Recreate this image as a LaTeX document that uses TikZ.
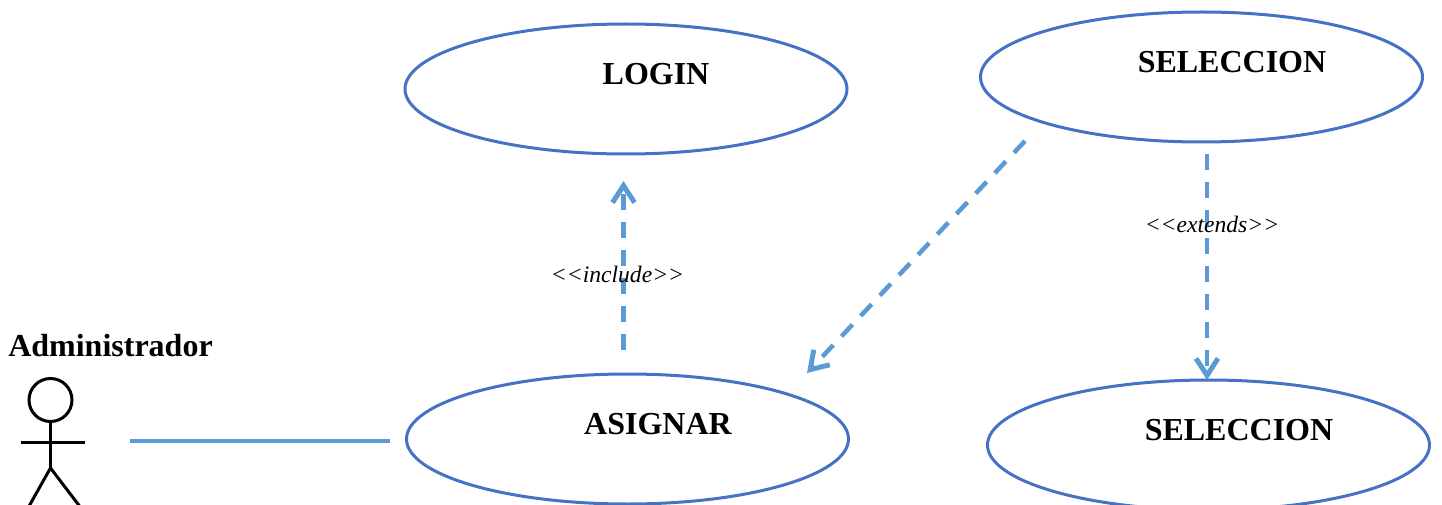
\documentclass[tikz,border=0pt]{standalone}
\usepackage{fontspec}
\setmainfont{Liberation Serif}
\usetikzlibrary{arrows.meta,shapes.geometric}
\definecolor{ellblue}{HTML}{4472C4}
\definecolor{lineblue}{HTML}{5B9BD5}
\tikzset{
  usecase/.style={draw=ellblue,line width=3pt,ellipse,minimum width=442pt,minimum height=130pt,inner sep=0pt},
  uctext/.style={anchor=base,font=\fontsize{32}{36}\selectfont\bfseries,inner sep=0pt},
  stereo/.style={anchor=base,font=\fontsize{23.6}{28}\selectfont\itshape,inner sep=0pt},
  depline/.style={draw=lineblue,line width=4.5pt,dash pattern=on 16pt off 12pt,-{Straight Barb[length=17pt,width=22pt,line width=5pt]}},
  assoc/.style={draw=lineblue,line width=4.5pt},
  stick/.style={draw=black,line width=3pt}
}
\begin{document}
\begin{tikzpicture}[x=1pt,y=-1pt]
\useasboundingbox (0,0) rectangle (1442,505);
\clip (0,0) rectangle (1442,505);
\node[usecase] (login) at (626,89) {};
\node[usecase] (selA) at (1201.5,77) {};
\node[usecase] (asignar) at (627.5,439) {};
\node[usecase] (selB) at (1208.5,445) {};
\node[uctext] (tlogin) at (656,85) {LOGIN};
\node[uctext] (tselA) at (1232,73) {SELECCION};
\node[uctext] (tasignar) at (658,434) {ASIGNAR};
\node[uctext] (tselB) at (1239,440) {SELECCION};
\node[uctext] (tadmin) at (110.5,356) {Administrador};
% actor
\node[stick,circle,minimum size=43pt,inner sep=0pt] (head) at (50.5,400) {};
\coordinate (hip) at (50.5,468);
\coordinate (armL) at (21,442);
\coordinate (armR) at (84.5,442);
\coordinate (legL) at (28,508);
\coordinate (legR) at (81,508);
\draw[stick] (head.south) -- (hip);
\draw[stick] (armL) -- (armR);
\draw[stick] (legL) -- (hip) -- (legR);
% connectors
\coordinate (a1) at (130,441);
\coordinate (a2) at (390,441);
\draw[assoc] (a1) -- (a2);
\coordinate (i1) at (623.5,350);
\coordinate (i2) at (623.5,181);
\draw[depline] (i1) -- (i2);
\coordinate (d1) at (1025,141);
\coordinate (d2) at (807,373);
\draw[depline] (d1) -- (d2);
\coordinate (e1) at (1207,154);
\coordinate (e2) at (1207,380);
\draw[depline] (e1) -- (e2);
\node[stereo] (inc) at (617.5,282.5) {<{}<include>{}>};
\node[stereo] (ext) at (1212,232.5) {<{}<extends>{}>};
\end{tikzpicture}
\end{document}
